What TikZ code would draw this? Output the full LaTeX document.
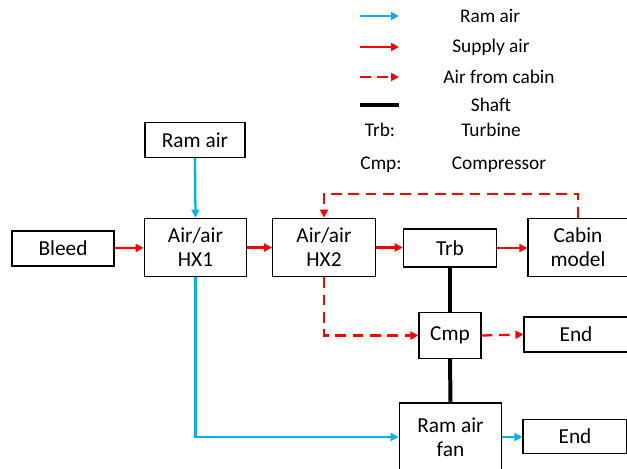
\documentclass[tikz,border=0pt]{standalone}
\usepackage{fontspec}
\setmainfont{Carlito}
\usetikzlibrary{positioning,arrows.meta}

\definecolor{ramblue}{RGB}{0,176,240}
\definecolor{supred}{RGB}{255,0,0}

\tikzset{
  blk/.style={draw, line width=0.9pt, fill=white, align=center, inner sep=0pt,
    font=\fontsize{16}{18}\selectfont},
  ram/.style={ramblue, line width=1.7pt, -{Triangle[length=6pt,width=6pt]}},
  sup/.style={supred, line width=1.7pt, -{Triangle[length=6pt,width=6pt]}},
  cab/.style={supred, line width=1.7pt, dash pattern=on 8pt off 5pt,
    -{Triangle[length=6pt,width=6pt]}},
  shaft/.style={black, line width=3pt},
  legtxt/.style={font=\fontsize{14.5}{17}\selectfont, inner sep=0pt}
}

\begin{document}
\begin{tikzpicture}[x=0.75pt,y=-0.75pt]
\useasboundingbox (0,0) rectangle (627,468);

%%% Legend
\coordinate (lrA) at (360,16);  \coordinate (lrB) at (399,16);
\coordinate (lsA) at (360,47);  \coordinate (lsB) at (399,47);
\coordinate (lcA) at (360,77);  \coordinate (lcB) at (399,77);
\coordinate (lhA) at (360,105); \coordinate (lhB) at (399,105);
\draw[ram] (lrA) -- (lrB);
\draw[sup] (lsA) -- (lsB);
\draw[cab] (lcA) -- (lcB);
\draw[shaft] (lhA) -- (lhB);

\node[legtxt] (tram) at (490,16) {Ram air};
\node[legtxt] (tsup) at (491,47) {Supply air};
\node[legtxt] (tcab) at (499,77) {Air from cabin};
\node[legtxt] (tsha) at (491,105) {Shaft};
\node[legtxt] (ktrb) at (380,130) {Trb:};
\node[legtxt] (ttrb) at (491,130) {Turbine};
\node[legtxt] (kcmp) at (381,165) {Cmp:};
\node[legtxt] (tcmp) at (499,165) {Compressor};
%%%

%% Blocks
\node[blk, minimum width=75pt, minimum height=26.25pt] (ramin) at (195,140) {Ram air};
\node[blk, minimum width=76.5pt, minimum height=26.25pt] (bleed) at (63,248.5) {Bleed};
\node[blk, minimum width=77pt, minimum height=44pt] (hx1) at (195.5,247.5) {Air/air\\HX1};
\node[blk, minimum width=77pt, minimum height=44pt] (hx2) at (324,247.5) {Air/air\\HX2};
\node[blk, minimum width=70pt, minimum height=28.5pt] (trb) at (450,248) {Trb};
\node[blk, minimum width=75pt, minimum height=44pt] (cabin) at (578,247.5) {Cabin\\model};
\node[blk, minimum width=46.5pt, minimum height=34pt] (cmp) at (450,335.5) {Cmp};
\node[blk, minimum width=78pt, minimum height=26.25pt] (endA) at (576,334.5) {End};
\node[blk, minimum width=77pt, minimum height=51pt] (fan) at (450.5,437) {Ram air\\fan};
\node[blk, minimum width=78pt, minimum height=25pt] (endB) at (575,436.5) {End};

\coordinate (loop) at (0,194);

%% Supply air
\draw[sup] (bleed) -- (hx1);
\draw[sup] (hx1.east) -- (hx2.west);
\draw[sup] (hx2.east) -- (trb.west |- hx2.east);
\draw[sup] (trb.east) -- (cabin.west |- trb.east);

%% Air from cabin
\draw[cab] (cabin.north) -- (cabin.north |- loop) -- (hx2.north |- loop) -- (hx2.north);
\draw[cab] (hx2.south) |- (cmp.west);
\draw[cab] (cmp.east) -- (endA.west);

%% Ram air
\draw[ram] (ramin.south) -- (hx1.north);
\draw[ram] (hx1.south) |- (fan.west);
\draw[ram] (fan.east) -- (endB.west |- fan.east);

%% Shaft
\draw[shaft] (trb.south) -- (cmp.north);
\draw[shaft] (cmp.south) -- (fan.north);

\end{tikzpicture}
\end{document}
